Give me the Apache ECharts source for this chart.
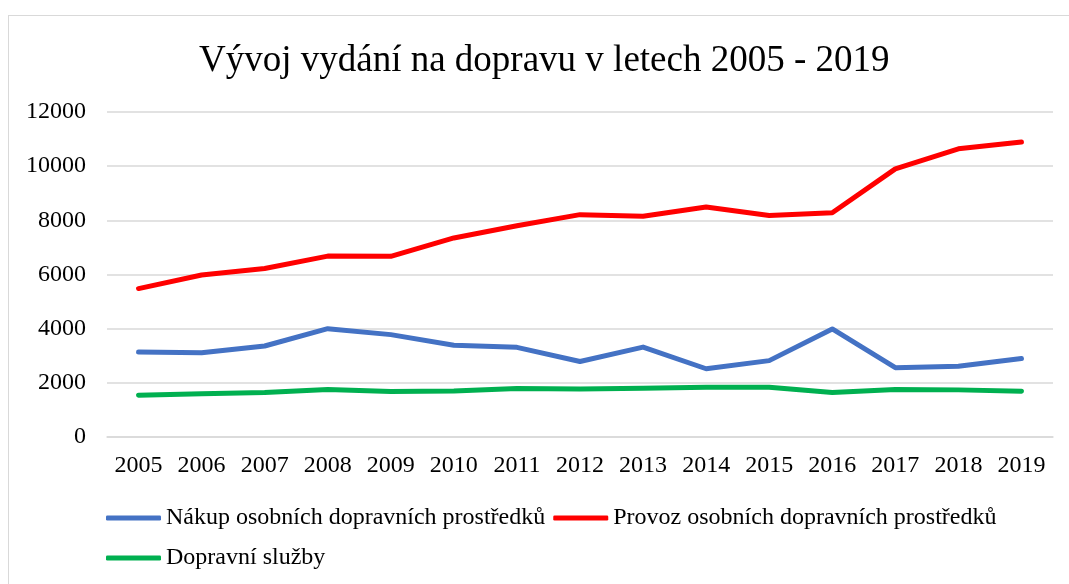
<!DOCTYPE html>
<html>
<head>
<meta charset="utf-8">
<script src="https://cdn.jsdelivr.net/npm/echarts@6/dist/echarts.min.js"></script>
<style>
  html, body { margin: 0; padding: 0; background: #fff; }
  #frame { position: absolute; left: 8px; top: 15px; right: -2px; bottom: -2px; border: 1px solid #d9d9d9; }
  #main { position: absolute; left: 0; top: 0; width: 1069px; height: 584px; }
</style>
</head>
<body>
<div id="frame"></div>
<div id="main"></div>
<script>
// roky
var years = ['2005','2006','2007','2008','2009','2010','2011','2012','2013','2014','2015','2016','2017','2018','2019'];
// hodnoty
var nakup = [3140, 3110, 3360, 4000, 3780, 3390, 3310, 2790, 3320, 2520, 2820, 3990, 2560, 2610, 2900];
var provoz = [5480, 5980, 6220, 6680, 6670, 7350, 7800, 8210, 8150, 8490, 8180, 8280, 9900, 10640, 10890];
var sluzby = [1540, 1600, 1640, 1750, 1680, 1700, 1790, 1770, 1800, 1840, 1840, 1640, 1750, 1740, 1690];
var yTicks = [0, 2000, 4000, 6000, 8000, 10000, 12000];

var serif = '"Liberation Serif", "Times New Roman", serif';
var myChart = echarts.init(document.getElementById('main'));

function line(name, data, color) {
  return {
    name: name,
    type: 'line',
    data: data,
    showSymbol: false,
    symbol: 'none',
    lineStyle: { width: 5, color: color, cap: 'round', join: 'round' },
    itemStyle: { color: color }
  };
}

myChart.setOption({
  animation: false,
  title: {
    text: 'Vývoj vydání na dopravu v letech 2005 - 2019',
    left: 194,
    top: 38,
    textStyle: { fontFamily: serif, fontSize: 37, fontWeight: 'normal', color: '#000' }
  },
  grid: { left: 107, right: 16, top: 112, bottom: 147 },
  legend: {
    left: 101,
    top: 497,
    width: 940,
    itemWidth: 55,
    itemHeight: 5,
    itemGap: 8,
    icon: 'roundRect',
    textStyle: { fontFamily: serif, fontSize: 24, color: '#000', lineHeight: 32 },
    data: ['Nákup osobních dopravních prostředků', 'Provoz osobních dopravních prostředků', 'Dopravní služby']
  },
  xAxis: {
    type: 'category',
    data: years,
    boundaryGap: true,
    axisLine: { lineStyle: { color: '#d9d9d9', width: 1.5 } },
    axisTick: { show: false },
    axisLabel: { fontFamily: serif, fontSize: 24, color: '#000', margin: 17 }
  },
  yAxis: {
    type: 'value',
    min: yTicks[0],
    max: yTicks[yTicks.length - 1],
    interval: 2000,
    axisLine: { show: false },
    axisTick: { show: false },
    splitLine: { lineStyle: { color: '#d9d9d9', width: 1.5 } },
    axisLabel: {
      fontFamily: serif, fontSize: 24, color: '#000', margin: 21,
      formatter: function (v) { return String(v); }
    }
  },
  series: [
    line('Nákup osobních dopravních prostředků', nakup, '#4472C4'),
    line('Provoz osobních dopravních prostředků', provoz, '#FF0000'),
    line('Dopravní služby', sluzby, '#00B050')
  ]
});
</script>
</body>
</html>
